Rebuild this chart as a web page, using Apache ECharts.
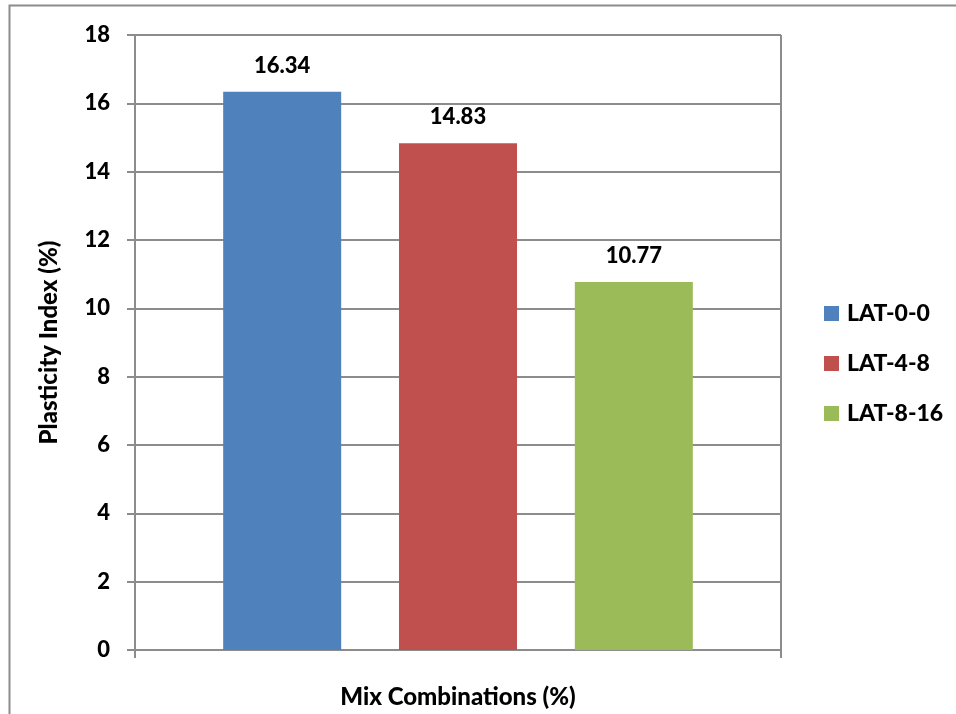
<!DOCTYPE html>
<html>
<head>
<meta charset="utf-8">
<script src="https://cdn.jsdelivr.net/npm/echarts@6/dist/echarts.min.js"></script>
<style>
  html, body { margin: 0; padding: 0; background: #fff; }
  #chart { width: 956px; height: 714px; }
</style>
</head>
<body>
<div id="chart"></div>
<script>
// Plasticity index of each mix combination
const seriesNames = ['LAT-0-0', 'LAT-4-8', 'LAT-8-16'];
const plasticityIndex = [16.34, 14.83, 10.77];
const barColors = ['#4f81bd', '#c0504d', '#9bbb59'];
const yTicks = { min: 0, max: 18, interval: 2 };

const FONT = 'Lato';
const WEIGHT = 900;
const chart = echarts.init(document.getElementById('chart'), null, { renderer: 'canvas' });

const series = seriesNames.map((name, i) => ({
  name: name,
  type: 'bar',
  data: [plasticityIndex[i]],
  barWidth: 118,
  barGap: '49%',
  itemStyle: { color: barColors[i] },
  label: {
    show: true,
    position: 'top',
    distance: 15,
    formatter: p => p.value.toFixed(2),
    color: '#000',
    fontFamily: FONT,
    fontWeight: WEIGHT,
    fontSize: 22
  }
}));

chart.setOption({
  animation: false,
  backgroundColor: '#fff',
  graphic: [{
    type: 'rect',
    shape: { x: 9.5, y: 5.5, width: 960, height: 720 },
    style: { fill: 'none', stroke: '#8c8c8c', lineWidth: 2 },
    silent: true
  }],
  grid: { left: 135, top: 35, width: 646, height: 619 },
  legend: {
    orient: 'vertical',
    left: 824,
    top: 302,
    padding: 0,
    itemWidth: 15,
    itemHeight: 15,
    itemGap: 27,
    icon: 'rect',
    textStyle: { fontFamily: FONT, fontWeight: WEIGHT, fontSize: 23, color: '#000', padding: [0, 0, 0, 3] },
    data: seriesNames
  },
  xAxis: {
    type: 'category',
    data: [''],
    name: 'Mix Combinations (%)',
    nameLocation: 'middle',
    nameGap: 35,
    nameTextStyle: { fontFamily: FONT, fontWeight: WEIGHT, fontSize: 24, color: '#000' },
    axisLine: { lineStyle: { color: '#8c8c8c', width: 2 } },
    axisTick: { show: true, length: 8, lineStyle: { color: '#8c8c8c', width: 2 } },
    axisLabel: { show: false },
    splitLine: { show: true, lineStyle: { color: '#8c8c8c', width: 2 } }
  },
  yAxis: {
    type: 'value',
    min: yTicks.min,
    max: yTicks.max,
    interval: yTicks.interval,
    name: 'Plasticity Index (%)',
    nameLocation: 'middle',
    nameGap: 74,
    nameTextStyle: { fontFamily: FONT, fontWeight: WEIGHT, fontSize: 24, color: '#000' },
    axisLine: { show: true, lineStyle: { color: '#8c8c8c', width: 2 } },
    axisTick: { show: true, length: 8, lineStyle: { color: '#8c8c8c', width: 2 } },
    axisLabel: { margin: 25, fontFamily: FONT, fontWeight: WEIGHT, fontSize: 22, color: '#000' },
    splitLine: { show: true, lineStyle: { color: '#8c8c8c', width: 2 } }
  },
  series: series
});
</script>
</body>
</html>
